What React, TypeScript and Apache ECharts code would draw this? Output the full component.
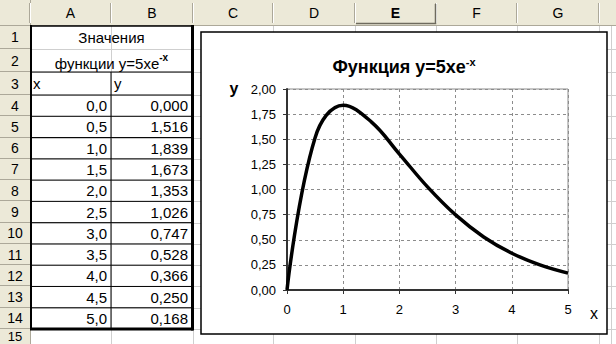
import React, { useEffect, useRef } from "react";
import * as echarts from "echarts";

const xs = [0, 0.5, 1, 1.5, 2, 2.5, 3, 3.5, 4, 4.5, 5];
const ys = [0, 1.516, 1.839, 1.673, 1.353, 1.026, 0.747, 0.528, 0.366, 0.25, 0.168];
const columnLetters = ["A", "B", "C", "D", "E", "F", "G"];
const rowNumbers = [1, 2, 3, 4, 5, 6, 7, 8, 9, 10, 11, 12, 13, 14, 15];
const tableTitle1 = "Значения";
const tableTitle2 = "функции y=5xe";
const chartTitle = "Функция y=5xe";
const supText = "-x";
const xHeader = "x";
const yHeader = "y";

const FONT = "'Liberation Sans', Arial, sans-serif";

// layout (pixels)
const colEdges = [0, 30, 111, 193, 273, 355, 436, 517, 599, 616];
const rowEdges: number[] = (() => {
  const r = [25, 49, 72, 95];
  const h = (329 - 95) / 11;
  for (let i = 1; i <= 11; i++) r.push(95 + h * i);
  r.push(351);
  return r;
})();

function txt(x: number, y: number, text: string, o: any = {}) {
  return {
    type: "text",
    x,
    y,
    z: o.z ?? 1,
    style: {
      text,
      fill: o.fill ?? "#000",
      fontSize: o.fontSize ?? 14,
      fontFamily: FONT,
      fontWeight: o.fontWeight ?? "normal",
      align: o.align ?? "center",
      textAlign: o.align ?? "center",
      verticalAlign: "middle",
      textVerticalAlign: "middle",
      rich: o.rich,
    },
  };
}
function ln(x1: number, y1: number, x2: number, y2: number, stroke: string, lineWidth = 1, z = 1) {
  return { type: "line", z, shape: { x1, y1, x2, y2 }, style: { stroke, lineWidth } };
}

function buildGraphic() {
  const els: any[] = [];
  els.push({ type: "rect", z: 0, shape: { x: 0, y: 0, width: 616, height: 344 }, style: { fill: "#fff" } });
  // cell gridlines
  for (let i = 2; i < colEdges.length - 1; i++) els.push(ln(colEdges[i] + 0.5, 25, colEdges[i] + 0.5, 344, "#CFCFCF"));
  els.push(ln(611.5, 25, 611.5, 344, "#CFCFCF"));
  for (let i = 1; i < rowEdges.length - 1; i++) els.push(ln(30, Math.round(rowEdges[i]) + 0.5, 616, Math.round(rowEdges[i]) + 0.5, "#CFCFCF"));
  // headers
  els.push({ type: "rect", z: 1, shape: { x: 0, y: 0, width: 616, height: 25 }, style: { fill: "#ECE9D8" } });
  els.push({ type: "rect", z: 1, shape: { x: 0, y: 25, width: 30, height: 319 }, style: { fill: "#ECE9D8" } });
  els.push(ln(0, 25.5, 616, 25.5, "#ACA899"));
  els.push(ln(30.5, 0, 30.5, 344, "#ACA899"));
  for (let i = 1; i < colEdges.length - 1; i++) {
    els.push(ln(colEdges[i] - 0.5, 3, colEdges[i] - 0.5, 23, "#ACA899"));
    els.push(ln(colEdges[i] + 0.5, 3, colEdges[i] + 0.5, 23, "#FFFFFF"));
  }
  for (let i = 0; i < rowEdges.length - 1; i++) {
    const y = Math.round(rowEdges[i + 1]);
    els.push(ln(0, y - 0.5, 30, y - 0.5, "#ACA899"));
  }
  columnLetters.forEach((c, i) => {
    const cx = (colEdges[i + 1] + colEdges[i + 2]) / 2;
    els.push(txt(cx, 13, c, { fontSize: 14, fontWeight: c === "E" ? "bold" : "normal", z: 2 }));
  });
  // selected column E header outline
  els.push({ type: "polyline", z: 2, shape: { points: [[356, 23.5], [435.5, 23.5], [435.5, 4]] }, style: { stroke: "#6E6B5E", lineWidth: 1.5, fill: "none" } });
  rowNumbers.forEach((n, i) => {
    const cy = i === 14 ? 336 : (rowEdges[i] + rowEdges[i + 1]) / 2;
    els.push(txt(15, cy, String(n), { fontSize: i === 14 ? 13 : 14, z: 2 }));
  });
  // table
  const A0 = colEdges[1], A1 = colEdges[2], B1 = colEdges[3];
  const top3 = rowEdges[2], bottom = rowEdges[14];
  for (let r = 3; r < 14; r++) els.push(ln(A0, rowEdges[r], B1, rowEdges[r], "#000", 1, 3));
  els.push(ln(A0, top3, B1, top3, "#000", 1, 3));
  els.push(ln(A1, top3, A1, bottom, "#000", 1, 3));
  els.push(ln(A0 + 1, 25, A0 + 1, bottom, "#000", 2, 3));
  els.push(ln(A0, 26, B1, 26, "#000", 1.5, 3));
  els.push(ln(B1 - 0.5, 25, B1 - 0.5, bottom + 1.5, "#000", 3, 3));
  els.push(ln(A0, bottom, B1, bottom, "#000", 3, 3));
  const midAB = (A0 + B1) / 2;
  els.push(txt(midAB, (rowEdges[0] + rowEdges[1]) / 2, tableTitle1, { fontSize: 15, z: 4 }));
  els.push(
    txt(midAB, (rowEdges[1] + rowEdges[2]) / 2 + 1, `{a|${tableTitle2}}{s|${supText}}`, {
      z: 4,
      rich: {
        a: { fontSize: 15, fontFamily: FONT, fill: "#000", lineHeight: 18, verticalAlign: "bottom" },
        s: { fontSize: 10, fontFamily: FONT, fill: "#000", fontWeight: "bold", lineHeight: 18, verticalAlign: "top" },
      },
    })
  );
  els.push(txt(A0 + 3, (rowEdges[2] + rowEdges[3]) / 2, xHeader, { fontSize: 15, align: "left", z: 4 }));
  els.push(txt(A1 + 3, (rowEdges[2] + rowEdges[3]) / 2, yHeader, { fontSize: 15, align: "left", z: 4 }));
  xs.forEach((x, i) => {
    const cy = (rowEdges[3 + i] + rowEdges[4 + i]) / 2;
    els.push(txt(A1 - 4, cy, x.toFixed(1).replace(".", ","), { fontSize: 15, align: "right", z: 4 }));
    els.push(txt(B1 - 5, cy, ys[i].toFixed(3).replace(".", ","), { fontSize: 15, align: "right", z: 4 }));
  });
  // chart box
  els.push({ type: "rect", z: 5, shape: { x: 201, y: 32, width: 406, height: 302 }, style: { fill: "#fff", stroke: "#000", lineWidth: 1.5 } });
  els.push(
    txt(404, 66, `{a|${chartTitle}}{s|${supText}}`, {
      z: 6,
      rich: {
        a: { fontSize: 18, fontFamily: FONT, fontWeight: "bold", fill: "#000", lineHeight: 20, verticalAlign: "bottom" },
        s: { fontSize: 11, fontFamily: FONT, fontWeight: "bold", fill: "#000", lineHeight: 20, verticalAlign: "top" },
      },
    })
  );
  els.push(txt(234, 88, yHeader, { fontSize: 16, fontWeight: "bold", z: 6 }));
  els.push(txt(594, 313, xHeader, { fontSize: 16, z: 6 }));
  return els;
}

export default function App() {
  const ref = useRef<HTMLDivElement>(null);
  useEffect(() => {
    if (!ref.current) return;
    const chart = echarts.init(ref.current, null, { renderer: "svg" });
    chart.setOption({
      animation: false,
      backgroundColor: "#fff",
      graphic: { elements: buildGraphic() },
      grid: {
        left: 287,
        top: 89,
        width: 281,
        height: 201,
        show: true,
        borderColor: "#8C8C8C",
        borderWidth: 1,
        backgroundColor: "transparent",
        z: 9,
      },
      xAxis: {
        type: "value",
        min: 0,
        max: 5,
        interval: 1,
        z: 10,
        axisLine: { lineStyle: { color: "#333", width: 2 } },
        axisTick: { show: true, length: 4, lineStyle: { color: "#333", width: 1 } },
        axisLabel: { fontSize: 13, fontFamily: FONT, color: "#000", margin: 13 },
        splitLine: { show: true, lineStyle: { type: [3, 3], color: "#8C8C8C", width: 1 } },
      },
      yAxis: {
        type: "value",
        min: 0,
        max: 2,
        interval: 0.25,
        z: 10,
        axisLine: { show: true, lineStyle: { color: "#333", width: 2 } },
        axisTick: { show: true, length: 4, lineStyle: { color: "#333", width: 1 } },
        axisLabel: {
          fontSize: 13,
          fontFamily: FONT,
          color: "#000",
          margin: 11,
          formatter: (v: number) => v.toFixed(2).replace(".", ","),
        },
        splitLine: { show: true, lineStyle: { type: [3, 3], color: "#8C8C8C", width: 1 } },
      },
      series: [
        {
          type: "line",
          data: xs.map((x, i) => [x, ys[i]]),
          smooth: 0.4,
          symbol: "none",
          showSymbol: false,
          lineStyle: { color: "#000", width: 3.5 },
          z: 12,
        },
      ],
    });
    return () => chart.dispose();
  }, []);
  return <div ref={ref} style={{ position: "fixed", left: 0, top: 0, width: 616, height: 344 }} />;
}
